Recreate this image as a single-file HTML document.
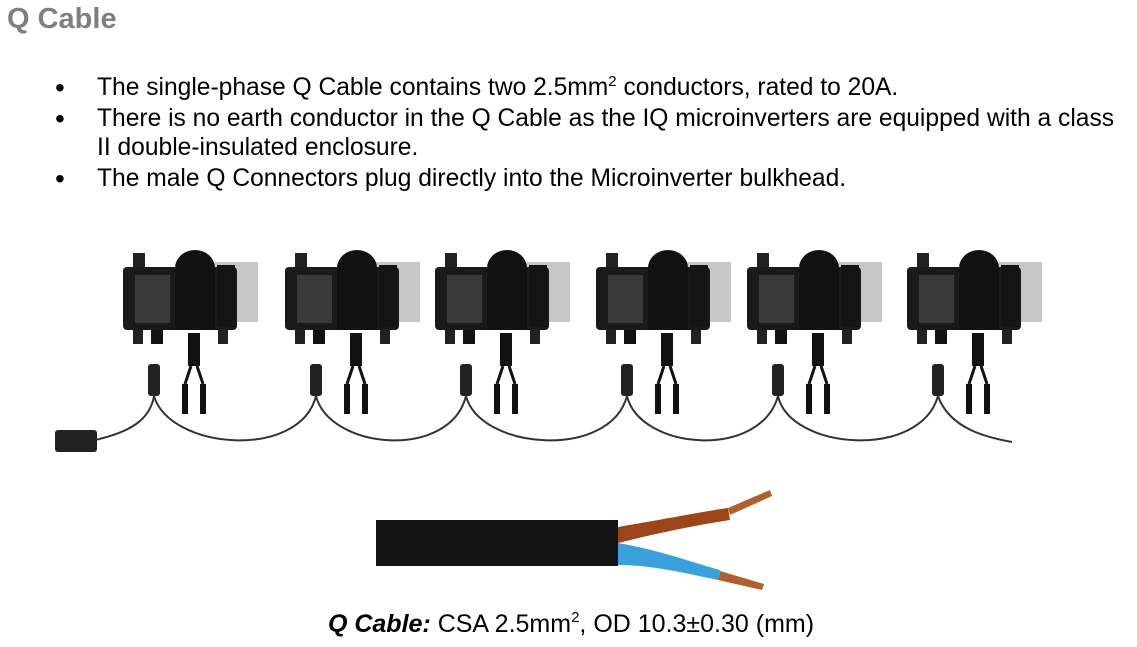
<!DOCTYPE html>
<html><head><meta charset="utf-8"><style>
body{margin:0;width:1137px;height:647px;background:#fff;position:relative;overflow:hidden;font-family:"Liberation Sans",Arial,sans-serif;color:#000}
.t{position:absolute;left:7px;top:3px;font-size:29px;font-weight:bold;color:#7f7f7f}
.l{position:absolute;left:97px;font-size:24.6px;white-space:nowrap}
.b{position:absolute;left:55px;font-size:28px}
sup{font-size:15px;line-height:0}
</style></head><body>
<div class="t">Q Cable</div>
<div class="b" style="top:72px">•</div><div class="l" style="top:74px">The single-phase Q Cable contains two 2.5mm<sup>2</sup> conductors, rated to 20A.</div>
<div class="b" style="top:103px">•</div><div class="l" style="top:105px">There is no earth conductor in the Q Cable as the IQ microinverters are equipped with a class</div>
<div class="l" style="top:134px">II double-insulated enclosure.</div>
<div class="b" style="top:163px">•</div><div class="l" style="top:165px">The male Q Connectors plug directly into the Microinverter bulkhead.</div>
<svg width="1137" height="647" style="position:absolute;left:0;top:0">
<defs>
<g id="inv">
<path d="M90 262 h45 v60 h-45z" fill="#c8c8c8"/>
<rect x="10" y="253" width="12" height="16" fill="#222"/>
<rect x="0" y="267" width="114" height="63" rx="4" fill="#1a1a1a"/>
<rect x="12" y="275" width="35" height="48" fill="#3a3a3a"/>
<path d="M52 330 v-62 a20 18 0 0 1 40 0 v62z" fill="#111"/>
<rect x="94" y="265" width="18" height="62" fill="#151515"/>
<rect x="10" y="330" width="10" height="14" fill="#222"/>
<rect x="28" y="330" width="12" height="14" fill="#111"/>
<rect x="95" y="330" width="10" height="14" fill="#222"/>
<rect x="65" y="333" width="12" height="33" fill="#111"/>
<path d="M68 366 l-6 18 M74 366 l6 18" stroke="#111" stroke-width="3"/>
<rect x="59" y="384" width="6" height="30" fill="#111"/>
<rect x="77" y="384" width="6" height="30" fill="#111"/>
<rect x="25" y="364" width="12" height="32" rx="3" fill="#222"/>
</g>
</defs>
<use href="#inv" x="123"/><use href="#inv" x="285"/><use href="#inv" x="435"/><use href="#inv" x="596"/><use href="#inv" x="747"/><use href="#inv" x="907"/>
<g fill="none" stroke="#333" stroke-width="2">
<path d="M95 440 C130 432 150 420 154 396"/>
<path d="M154 396 C170 450 300 460 316 396"/>
<path d="M316 396 C330 450 450 460 466 396"/>
<path d="M466 396 C480 450 610 460 627 396"/>
<path d="M627 396 C640 450 760 460 778 396"/>
<path d="M778 396 C790 450 920 460 938 396"/>
<path d="M938 396 C950 430 990 438 1012 442"/>
</g>
<rect x="55" y="430" width="42" height="22" rx="3" fill="#222"/>
<rect x="376" y="520" width="242" height="46" fill="#141414"/>
<path d="M618 527 C660 520 700 512 728 508 L730 520 C690 526 650 535 618 543z" fill="#9b4519"/>
<path d="M728 508 L770 490 L772 496 L730 515z" fill="#b0602c"/>
<path d="M618 543 C660 550 700 565 720 570 L718 580 C680 572 650 565 618 565z" fill="#3aa0dc"/>
<path d="M720 571 L764 584 L762 590 L718 580z" fill="#b0602c"/>
<text x="571" y="632" text-anchor="middle" font-size="25" font-family="Liberation Sans,sans-serif"><tspan font-weight="bold" font-style="italic">Q Cable:</tspan>  CSA 2.5mm<tspan font-size="15" dy="-10">2</tspan><tspan dy="10">, OD 10.3±0.30 (mm)</tspan></text>
</svg>
</body></html>
